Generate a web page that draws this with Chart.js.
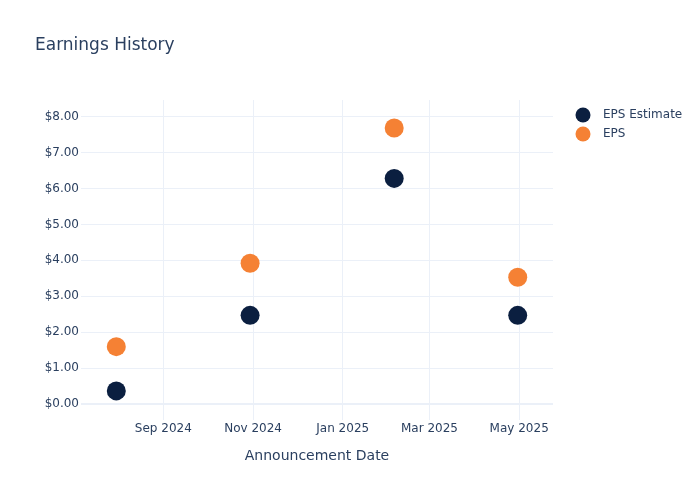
<!DOCTYPE html>
<html>
<head>
<meta charset="utf-8">
<script src="https://cdn.jsdelivr.net/npm/chart.js@4.4.1/dist/chart.umd.min.js"></script>
<style>
  html, body { margin: 0; padding: 0; background: #fff; }
  #wrap { width: 700px; height: 500px; position: relative; }
</style>
</head>
<body>
<div id="wrap"><canvas id="chart" width="700" height="500"></canvas></div>
<script>
// announcement dates (UTC) and values
const dates = ['2024-07-31', '2024-10-30', '2025-02-05', '2025-04-30'];
const epsEstimate = [0.37, 2.47, 6.28, 2.47];
const eps = [1.60, 3.92, 7.68, 3.53];
const monthTicks = ['2024-09-01', '2024-11-01', '2025-01-01', '2025-03-01', '2025-05-01'];
const monthNames = ['Jan','Feb','Mar','Apr','May','Jun','Jul','Aug','Sep','Oct','Nov','Dec'];

const toMs = s => Date.parse(s + 'T00:00:00Z');
const pts = vals => dates.map((d, i) => ({ x: toMs(d), y: vals[i] }));

const navy = '#0b1f40';
const orange = '#f58134';
const grid = '#ebf0f8';
const txt = '#2a3f5f';
const FONT = '"DejaVu Sans", "Open Sans", sans-serif';

// plotly-like legend drawn at the right
const legendPlugin = {
  id: 'sideLegend',
  afterDraw(chart) {
    const ctx = chart.ctx;
    ctx.save();
    ctx.font = '12px ' + FONT;
    ctx.textBaseline = 'middle';
    chart.data.datasets.forEach((ds, i) => {
      const y = 115 + i * 19;
      ctx.beginPath();
      ctx.arc(583, y, 7.5, 0, Math.PI * 2);
      ctx.fillStyle = ds.backgroundColor;
      ctx.fill();
      ctx.fillStyle = txt;
      ctx.fillText(ds.label, 603, y);
    });
    ctx.restore();
  }
};

new Chart(document.getElementById('chart'), {
  type: 'scatter',
  data: {
    datasets: [
      { label: 'EPS Estimate', data: pts(epsEstimate), backgroundColor: navy, borderWidth: 0, pointRadius: 9.5, pointHoverRadius: 9.5 },
      { label: 'EPS', data: pts(eps), backgroundColor: orange, borderWidth: 0, pointRadius: 9.5, pointHoverRadius: 9.5 }
    ]
  },
  options: {
    responsive: false,
    animation: false,
    layout: { padding: { top: 79.6, right: 147, left: 0, bottom: 0 } },
    plugins: {
      legend: { display: false },
      tooltip: { enabled: false },
      title: {
        display: true,
        text: 'Earnings History',
        align: 'start',
        color: txt,
        font: { family: FONT, size: 17, weight: 'normal' },
        padding: 0
      }
    },
    scales: {
      x: {
        type: 'linear',
        min: toMs('2024-07-07'),
        max: toMs('2025-05-24'),
        afterBuildTicks: ax => { ax.ticks = monthTicks.map(m => ({ value: toMs(m) })); },
        afterFit: ax => { ax.height = 80; },
        border: { display: false },
        grid: { color: grid, lineWidth: 1, drawTicks: false },
        ticks: {
          padding: 2,
          color: txt,
          font: { family: FONT, size: 12 },
          maxRotation: 0,
          autoSkip: false,
          callback: v => { const d = new Date(v); return monthNames[d.getUTCMonth()] + ' ' + d.getUTCFullYear(); }
        },
        title: {
          display: true,
          text: 'Announcement Date',
          color: txt,
          font: { family: FONT, size: 14 },
          padding: { top: 0, bottom: 35.6 }
        }
      },
      y: {
        min: -0.44,
        max: 8.46,
        afterBuildTicks: ax => { ax.ticks = [0,1,2,3,4,5,6,7,8].map(v => ({ value: v })); },
        afterFit: ax => { ax.width = 81; },
        border: { display: false },
        grid: {
          color: grid,
          drawTicks: false,
          lineWidth: c => (c.tick && c.tick.value === 0 ? 2 : 1)
        },
        ticks: {
          padding: 2,
          color: txt,
          font: { family: FONT, size: 12 },
          callback: v => '$' + v.toFixed(2)
        }
      }
    }
  },
  plugins: [legendPlugin, {
    // place the title where plotly puts it
    id: 'titlePos',
    afterLayout(chart) {
      const t = chart.titleBlock;
      if (t) { t.left = 35; t.top = 35; t.right = 400; t.bottom = 55; }
    }
  }]
});
</script>
</body>
</html>
